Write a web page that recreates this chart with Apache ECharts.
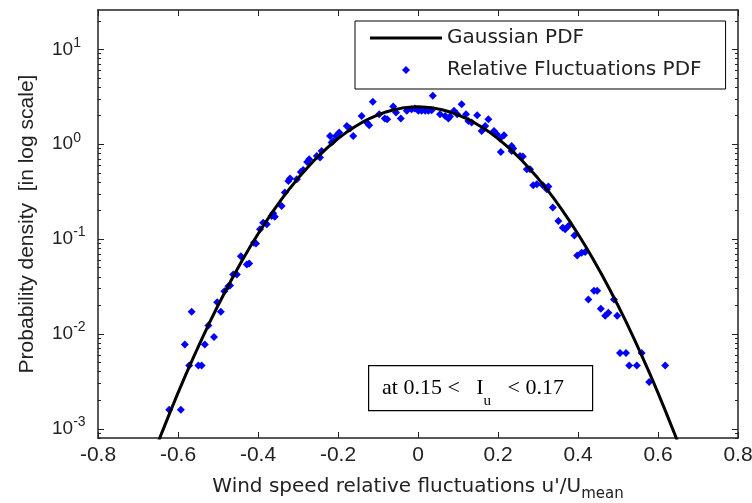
<!DOCTYPE html>
<html><head><meta charset="utf-8">
<script src="https://cdn.jsdelivr.net/npm/echarts@6/dist/echarts.min.js"></script>
<style>html,body{margin:0;padding:0;background:#fff}#c{width:752px;height:503px}</style>
</head><body><div id="c"></div>
<script>
// Gaussian PDF curve
const curveX = [-0.66,-0.64,-0.62,-0.60,-0.58,-0.56,-0.54,-0.52,-0.50,-0.48,-0.46,-0.44,-0.42,-0.40,-0.38,-0.36,-0.34,-0.32,-0.30,-0.28,-0.26,-0.24,-0.22,-0.20,-0.18,-0.16,-0.14,-0.12,-0.10,-0.08,-0.06,-0.04,-0.02,0,
  0.02,0.04,0.06,0.08,0.10,0.12,0.14,0.16,0.18,0.20,0.22,0.24,0.26,0.28,0.30,0.32,0.34,0.36,0.38,0.40,0.42,0.44,0.46,0.48,0.50,0.52,0.54,0.56,0.58,0.60,0.62,0.64,0.66];
const curveY = [0.000556,0.000918,0.00149,0.00239,0.00377,0.00585,0.00894,0.01346,0.01995,0.0291,0.0418,0.0592,0.0825,0.1132,0.1529,0.2034,0.2665,0.3438,0.437,0.546,0.673,0.816,0.974,1.146,1.326,1.512,1.698,1.877,2.043,2.190,2.312,2.403,2.459,2.478,
  2.459,2.403,2.312,2.190,2.043,1.877,1.698,1.512,1.326,1.146,0.974,0.816,0.673,0.546,0.437,0.3438,0.2665,0.2034,0.1529,0.1132,0.0825,0.0592,0.0418,0.0291,0.01995,0.01346,0.00894,0.00585,0.00377,0.00239,0.00149,0.000918,0.000556];
// Relative fluctuations PDF points
const ptX = [-0.622,-0.593,-0.583,-0.572,-0.566,-0.549,-0.541,-0.533,-0.524,-0.510,-0.502,-0.493,-0.484,-0.474,-0.470,-0.462,-0.453,-0.443,-0.428,-0.422,
  -0.410,-0.405,-0.395,-0.387,-0.378,-0.366,-0.362,-0.358,-0.341,-0.333,-0.324,-0.320,-0.303,-0.293,-0.287,-0.277,-0.272,-0.253,-0.245,-0.241,
  -0.220,-0.216,-0.212,-0.205,-0.197,-0.178,-0.170,-0.162,-0.141,-0.128,-0.122,-0.113,-0.097,-0.083,-0.077,-0.062,-0.055,-0.043,-0.028,-0.016,
  -0.008,0.001,0.009,0.018,0.026,0.034,0.037,0.055,0.068,0.076,0.080,0.090,0.098,0.109,0.120,0.126,0.134,0.148,0.159,0.168,
  0.176,0.190,0.197,0.205,0.215,0.207,0.234,0.238,0.234,0.255,0.262,0.272,0.280,0.288,0.297,0.312,0.322,0.326,0.337,0.351,
  0.362,0.368,0.376,0.391,0.398,0.409,0.418,0.426,0.440,0.448,0.457,0.468,0.476,0.490,0.498,0.505,0.520,0.528,0.547,0.559,0.578,0.618];
const ptY = [0.00159,0.00159,0.00773,0.00464,0.0171,0.00464,0.00464,0.00773,0.0123,0.0093,0.0216,0.0171,0.0282,0.0319,0.0325,0.0424,0.0424,0.0661,0.0541,0.0554,
  0.0916,0.0901,0.127,0.149,0.143,0.175,0.187,0.172,0.223,0.309,0.410,0.434,0.427,0.510,0.535,0.650,0.694,0.752,0.724,0.850,
  1.223,1.042,1.083,1.223,1.329,1.561,1.465,1.223,1.990,1.695,1.587,2.797,2.074,1.868,1.837,2.501,2.162,1.868,2.247,2.342,
  2.382,2.247,2.247,2.247,2.247,2.286,3.236,2.074,1.990,1.868,1.961,2.247,2.074,2.645,2.074,1.762,1.695,2.024,1.382,1.561,
  1.837,1.382,1.275,1.149,1.245,0.829,0.959,0.901,0.850,0.752,0.742,0.545,0.545,0.369,0.378,0.369,0.335,0.358,0.215,0.155,
  0.132,0.127,0.137,0.109,0.0673,0.0719,0.0729,0.0231,0.0285,0.0285,0.0184,0.0156,0.0167,0.0231,0.0156,0.00631,0.00631,0.00464,0.00464,0.00631,0.00312,0.00464];
// Axis ticks
const yMajor = [0.001,0.01,0.1,1,10];
const yMinor = [0.0008,0.0009,0.002,0.003,0.004,0.005,0.006,0.007,0.008,0.009,0.02,0.03,0.04,0.05,0.06,0.07,0.08,0.09,0.2,0.3,0.4,0.5,0.6,0.7,0.8,0.9,2,3,4,5,6,7,8,9,20];
const seriesNames = ['Gaussian PDF','Relative Fluctuations PDF'];

const axisColor = '#222';
const curveData = curveX.map((x,i)=>[x,curveY[i]]);
const ptData = ptX.map((x,i)=>[x,ptY[i]]);

function yAxisDef(pos, ticks, len, showLine, showLabel) {
  return {
    type:'log', logBase:10, min:0.0008, max:26, position:pos,
    axisLine:{show:showLine, onZero:false, lineStyle:{color:axisColor, width:1.5}},
    axisTick:{show:true, inside:true, length:len, customValues:ticks, lineStyle:{color:axisColor, width:1}},
    axisLabel:{show:showLabel, customValues:yMajor, align:'left', margin:46,
      formatter: v => '{b|10}{p|' + Math.round(Math.log10(v)) + '}',
      rich:{ b:{fontFamily:'Liberation Sans', fontSize:19, color:'#222'},
             p:{fontFamily:'Liberation Sans', fontSize:14, color:'#222', padding:[0,0,13,0]} } },
    splitLine:{show:false}, minorTick:{show:false}
  };
}
const yAxes = [
  Object.assign(yAxisDef('left', yMajor, 6, true, true), {
    name:'Probability density  [in log scale]', nameLocation:'middle', nameGap:60,
    nameTextStyle:{fontFamily:'Liberation Sans', fontSize:21, color:'#222'} }),
  yAxisDef('left', yMinor, 3, false, false),
  yAxisDef('right', yMajor, 6, true, false),
  yAxisDef('right', yMinor, 3, false, false)
];

const chart = echarts.init(document.getElementById('c'), null, {renderer:'canvas'});
chart.setOption({
  animation:false,
  backgroundColor:'#fff',
  grid:{left:98, top:10, right:14, bottom:65, containLabel:false, outerBoundsMode:'none'},
  graphic:[
    {type:'rect', left:368, top:365, shape:{width:224, height:45}, z:100,
     style:{fill:'#fff', stroke:'#000', lineWidth:1.2}},
    {type:'text', left:382, top:377, z:101,
     style:{text:'{n|at 0.15 <   I}{s|u}{n|   < 0.17}', rich:{
       n:{fontFamily:'Liberation Serif', fontSize:22, fill:'#000', color:'#000'},
       s:{fontFamily:'Liberation Serif', fontSize:15, fill:'#000', color:'#000', padding:[26,0,0,0]} }}}
  ],
  legend:{
    data:[
      {name:seriesNames[0], icon:'path://M0,0H72V3H0Z', itemStyle:{color:'#000'}},
      {name:seriesNames[1], icon:'path://M0,4L0.01,4Z M32,4L36,0L40,4L36,8Z M72,4L71.99,4Z', itemStyle:{color:'#0000ff'}}
    ],
    orient:'vertical', left:355, top:21,
    borderColor:'#000', borderWidth:1, padding:[7,24,9,15],
    itemWidth:72, itemHeight:8, itemGap:12, symbolKeepAspect:true,
    textStyle:{fontFamily:'DejaVu Sans', fontSize:20, color:'#222'}
  },
  xAxis:[{
    type:'value', min:-0.8, max:0.8, interval:0.2, position:'bottom',
    axisLine:{onZero:false, lineStyle:{color:axisColor, width:1.5}},
    axisTick:{inside:true, length:6, lineStyle:{color:axisColor}},
    axisLabel:{margin:7, fontFamily:'Liberation Sans', fontSize:21, color:'#222',
      formatter: v => Math.abs(v) < 1e-9 ? '0' : v.toFixed(1)},
    splitLine:{show:false},
    name:"Wind speed relative fluctuations u'/U{s|mean}", nameLocation:'middle', nameGap:33,
    nameTextStyle:{fontFamily:'DejaVu Sans', fontSize:20, color:'#222',
      rich:{s:{fontFamily:'DejaVu Sans', fontSize:15, color:'#222', padding:[16,0,0,0]}}}
  },{
    type:'value', min:-0.8, max:0.8, interval:0.2, position:'top',
    axisLine:{onZero:false, lineStyle:{color:axisColor, width:1.5}},
    axisTick:{inside:true, length:6, lineStyle:{color:axisColor}},
    axisLabel:{show:false}, splitLine:{show:false}
  }],
  yAxis:yAxes,
  series:[{
    name:seriesNames[0], type:'line', data:curveData, xAxisIndex:0, yAxisIndex:0,
    symbol:'none', showSymbol:false, clip:true,
    lineStyle:{color:'#000', width:3}, itemStyle:{color:'#000'}
  },{
    name:seriesNames[1], type:'scatter', data:ptData, xAxisIndex:0, yAxisIndex:0,
    symbol:'diamond', symbolSize:8, itemStyle:{color:'#0000ff', opacity:1}
  }]
});
</script></body></html>
